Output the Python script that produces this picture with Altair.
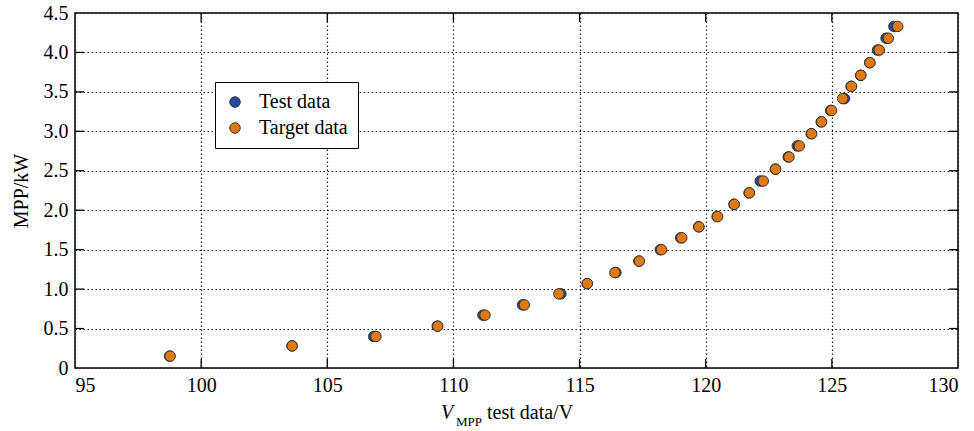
import altair as alt
import pandas as pd

series_names = ["Test data", "Target data"]

test_v = [98.75, 103.60, 106.84, 109.36, 111.17, 112.74, 114.26, 115.30, 116.44, 117.35,
          118.20, 119.01, 119.72, 120.45, 121.12, 121.72, 122.16, 122.76, 123.27, 123.63,
          124.18, 124.58, 124.95, 125.50, 125.76, 126.14, 126.50, 126.81, 127.15, 127.46]
test_p = [0.15, 0.28, 0.40, 0.53, 0.67, 0.80, 0.94, 1.07, 1.21, 1.355,
          1.50, 1.65, 1.79, 1.92, 2.075, 2.22, 2.37, 2.52, 2.675, 2.815,
          2.97, 3.12, 3.265, 3.415, 3.57, 3.71, 3.87, 4.03, 4.18, 4.33]

target_v = [98.77, 103.61, 106.93, 109.38, 111.25, 112.81, 114.18, 115.31, 116.40, 117.37,
            118.25, 119.05, 119.73, 120.47, 121.13, 121.73, 122.28, 122.77, 123.30, 123.71,
            124.20, 124.59, 124.99, 125.43, 125.78, 126.15, 126.51, 126.88, 127.24, 127.61]
target_p = [0.15, 0.28, 0.40, 0.53, 0.67, 0.80, 0.94, 1.07, 1.21, 1.355,
            1.50, 1.65, 1.79, 1.92, 2.075, 2.22, 2.37, 2.52, 2.675, 2.815,
            2.97, 3.12, 3.265, 3.415, 3.57, 3.71, 3.87, 4.03, 4.18, 4.33]

x_ticks = [95, 100, 105, 110, 115, 120, 125, 130]
y_ticks = [0, 0.5, 1.0, 1.5, 2.0, 2.5, 3.0, 3.5, 4.0, 4.5]

W, H = 883, 355
FONT = "Liberation Serif"
TL = 9  # inward tick length

df = pd.DataFrame({
    "V": test_v + target_v,
    "P": test_p + target_p,
    "series": [series_names[0]] * len(test_v) + [series_names[1]] * len(target_v),
})

x_scale = alt.Scale(domain=[95, 130], nice=False, zero=False)
y_scale = alt.Scale(domain=[0, 4.5], nice=False, zero=True)

grid_kw = dict(grid=True, gridDash=[1.5, 2.5], gridColor="#222222", gridWidth=1.2,
               ticks=False, domain=False, labelFont=FONT, labelFontSize=20,
               labelColor="black")

x_axis = alt.Axis(values=x_ticks, title=None, labelPadding=7, **grid_kw)
y_axis = alt.Axis(values=y_ticks, title="MPP/kW", labelPadding=7,
                  labelExpr="datum.value == 0 ? '0' : format(datum.value, '.1f')",
                  titleFont=FONT, titleFontSize=20, titleFontWeight="normal",
                  titleColor="black", titlePadding=12, **grid_kw)

points = alt.Chart(df).mark_circle(size=110, stroke="#333333", strokeWidth=1, opacity=1).encode(
    x=alt.X("V:Q", scale=x_scale, axis=x_axis),
    y=alt.Y("P:Q", scale=y_scale, axis=y_axis),
    color=alt.Color("series:N",
                    scale=alt.Scale(domain=series_names, range=["#1f4a9e", "#e07a10"]),
                    legend=alt.Legend(title=None, orient="none", legendX=140, legendY=69,
                                      strokeColor="black", fillColor="white", padding=10,
                                      labelFont=FONT, labelFontSize=20, labelColor="black",
                                      symbolType="circle", symbolSize=110,
                                      symbolStrokeColor="#333333", symbolStrokeWidth=1,
                                      rowPadding=6, labelOffset=14)),
)

xt = pd.DataFrame({"V": x_ticks[1:-1]})
yt = pd.DataFrame({"P": y_ticks[1:-1]})

bottom_ticks = alt.Chart(xt).mark_rule(color="black", strokeWidth=1.3).encode(
    x=alt.X("V:Q", scale=x_scale, axis=x_axis), y=alt.value(H), y2=alt.value(H - TL))
top_ticks = alt.Chart(xt).mark_rule(color="black", strokeWidth=1.3).encode(
    x=alt.X("V:Q", scale=x_scale, axis=x_axis), y=alt.value(0), y2=alt.value(TL))
left_ticks = alt.Chart(yt).mark_rule(color="black", strokeWidth=1.3).encode(
    y=alt.Y("P:Q", scale=y_scale, axis=y_axis), x=alt.value(0), x2=alt.value(TL))
right_ticks = alt.Chart(yt).mark_rule(color="black", strokeWidth=1.3).encode(
    y=alt.Y("P:Q", scale=y_scale, axis=y_axis), x=alt.value(W - TL), x2=alt.value(W))

one = pd.DataFrame({"a": [0]})
t_v = alt.Chart(one).mark_text(text="V", font=FONT, fontSize=20, fontStyle="italic",
                               align="left", baseline="alphabetic", color="black").encode(
    x=alt.value(366), y=alt.value(406))
t_sub = alt.Chart(one).mark_text(text="MPP", font=FONT, fontSize=13,
                                 align="left", baseline="alphabetic", color="black").encode(
    x=alt.value(381), y=alt.value(413))
t_rest = alt.Chart(one).mark_text(text="test data/V", font=FONT, fontSize=20,
                                  align="left", baseline="alphabetic", color="black").encode(
    x=alt.value(412), y=alt.value(406))

chart = alt.layer(points, bottom_ticks, top_ticks, left_ticks, right_ticks,
                  t_v, t_sub, t_rest).properties(
    width=W, height=H,
    padding={"left": 75, "top": 13, "right": 16, "bottom": 63},
    autosize=alt.AutoSizeParams(type="none"),
).configure_view(stroke="black", strokeWidth=1.5)

chart.save("out.html", embed_options={"renderer": "svg", "actions": False})
